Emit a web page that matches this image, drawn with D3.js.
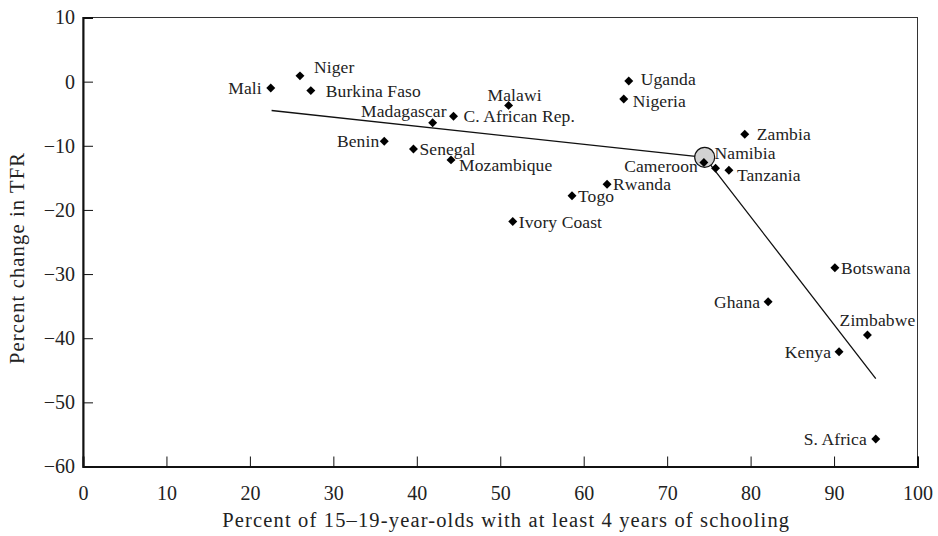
<!DOCTYPE html>
<html>
<head>
<meta charset="utf-8">
<script src="https://cdn.jsdelivr.net/npm/d3@7"></script>
<style>
  html, body { margin: 0; padding: 0; background: #fff; }
  svg { display: block; font-family: "Liberation Serif", "Times New Roman", serif; }
</style>
</head>
<body>
<svg id="chart" width="938" height="536"></svg>
<script>
// Country names, schooling share (%) and percent change in TFR
const countries = ["Mali", "Niger", "Burkina Faso", "Madagascar", "C. African Rep.", "Malawi",
  "Benin", "Senegal", "Mozambique", "Togo", "Ivory Coast", "Rwanda", "Uganda", "Nigeria",
  "Zambia", "Cameroon", "Namibia", "Tanzania", "Botswana", "Ghana", "Zimbabwe", "Kenya", "S. Africa"];
const schooling = [22.5, 26.0, 27.3, 41.9, 44.4, 51.0, 36.1, 39.6, 44.1, 58.6, 51.5, 62.8, 65.4, 64.8,
  79.3, 74.4, 75.8, 77.4, 90.1, 82.1, 94.0, 90.6, 95.0];
const tfrChange = [-1.0, 0.9, -1.4, -6.4, -5.4, -3.7, -9.3, -10.5, -12.2, -17.8, -21.8, -16.0, 0.1, -2.7,
  -8.2, -12.6, -13.5, -13.8, -29.0, -34.3, -39.5, -42.1, -55.7];

// Piecewise-linear fit with a single breakpoint
const fitX = [22.6, 74.5, 95.0];
const fitY = [-4.5, -11.8, -46.3];

const xTicks = [0, 10, 20, 30, 40, 50, 60, 70, 80, 90, 100];
const yTicks = [10, 0, -10, -20, -30, -40, -50, -60];

// Where each label sits relative to its marker: [dx, dy, anchor]
const labelPlace = {
  "Mali": [-9, 0, "end"],
  "Niger": [14, -9, "start"],
  "Burkina Faso": [15, 0, "start"],
  "Madagascar": [14, -12, "end"],
  "C. African Rep.": [10, 0, "start"],
  "Malawi": [6, -11, "middle"],
  "Benin": [-5, 0, "end"],
  "Senegal": [6, 0, "start"],
  "Mozambique": [8, 5, "start"],
  "Togo": [6, 0, "start"],
  "Ivory Coast": [6, 0, "start"],
  "Rwanda": [6, 0, "start"],
  "Uganda": [12, -2, "start"],
  "Nigeria": [9, 2, "start"],
  "Zambia": [12, 0, "start"],
  "Cameroon": [-6, 3, "end"],
  "Namibia": [-1, -15, "start"],
  "Tanzania": [8, 5, "start"],
  "Botswana": [6, 0, "start"],
  "Ghana": [-8, 0, "end"],
  "Zimbabwe": [10, -15, "middle"],
  "Kenya": [-8, 0, "end"],
  "S. Africa": [-9, 0, "end"]
};

const svg = d3.select("#chart");
const margin = { left: 83, right: 20.5, top: 17.5, bottom: 69.5 };
const W = 938, H = 536;

const x = d3.scaleLinear().domain([0, 100]).range([margin.left, W - margin.right]);
const y = d3.scaleLinear().domain([-60, 10]).range([H - margin.bottom, margin.top]);

// Frame: light top/right, heavier left/bottom axes
svg.append("rect")
  .attr("x", x(0)).attr("y", y(10))
  .attr("width", x(100) - x(0)).attr("height", y(-60) - y(10))
  .attr("fill", "none").attr("stroke", "#333").attr("stroke-width", 1);

const xAxis = d3.axisBottom(x).tickValues(xTicks).tickSize(-10).tickPadding(0).tickFormat(d3.format("d"));
const yAxis = d3.axisLeft(y).tickValues(yTicks).tickSize(-10).tickPadding(0)
  .tickFormat(d => d < 0 ? "\u2212" + Math.abs(d) : String(d));

const gx = svg.append("g").attr("transform", `translate(0,${y(-60)})`).call(xAxis);
gx.select(".domain").attr("stroke", "#111").attr("stroke-width", 2);
gx.selectAll(".tick line").attr("stroke", "#111").attr("stroke-width", 1);
gx.selectAll(".tick text").attr("y", 19).attr("font-size", 20).attr("fill", "#222")
  .attr("font-family", "Liberation Serif, serif");

const gy = svg.append("g").attr("transform", `translate(${x(0)},0)`).call(yAxis);
gy.select(".domain").attr("stroke", "#111").attr("stroke-width", 2);
gy.selectAll(".tick line").attr("stroke", "#111").attr("stroke-width", 1);
gy.selectAll(".tick text").attr("x", -8).attr("font-size", 20).attr("fill", "#222")
  .attr("font-family", "Liberation Serif, serif");

// Axis titles
svg.append("text")
  .attr("x", (x(0) + x(100)) / 2 + 6).attr("y", 527)
  .attr("text-anchor", "middle").attr("font-size", 20.5).attr("fill", "#222")
  .attr("letter-spacing", 1.15)
  .text("Percent of 15\u201319-year-olds with at least 4 years of schooling");

svg.append("text")
  .attr("transform", `translate(24,258) rotate(-90)`)
  .attr("text-anchor", "middle").attr("font-size", 20.5).attr("fill", "#222")
  .attr("letter-spacing", 1.15)
  .text("Percent change in TFR");

// Fitted line
const fit = fitX.map((v, i) => [v, fitY[i]]);
svg.append("path")
  .datum(fit)
  .attr("d", d3.line().x(d => x(d[0])).y(d => y(d[1])))
  .attr("fill", "none").attr("stroke", "#111").attr("stroke-width", 1.3);

// Breakpoint marker
svg.append("circle")
  .attr("cx", x(fitX[1])).attr("cy", y(fitY[1])).attr("r", 10)
  .attr("fill", "#d2d2d2").attr("stroke", "#111").attr("stroke-width", 1.2);

// Country markers
const points = countries.map((c, i) => ({ name: c, sx: schooling[i], ty: tfrChange[i] }));
const diamond = d3.symbol().type(d3.symbolSquare).size(40);
svg.append("g").selectAll("path").data(points).join("path")
  .attr("d", diamond)
  .attr("transform", d => `translate(${x(d.sx)},${y(d.ty)}) rotate(45)`)
  .attr("fill", "#000");

// Country labels
svg.append("g").selectAll("text").data(points).join("text")
  .attr("x", d => x(d.sx) + labelPlace[d.name][0])
  .attr("y", d => y(d.ty) + labelPlace[d.name][1])
  .attr("dy", "0.35em")
  .attr("text-anchor", d => labelPlace[d.name][2])
  .attr("font-size", 17.5).attr("letter-spacing", 0.1).attr("fill", "#222")
  .text(d => d.name);
</script>
</body>
</html>
